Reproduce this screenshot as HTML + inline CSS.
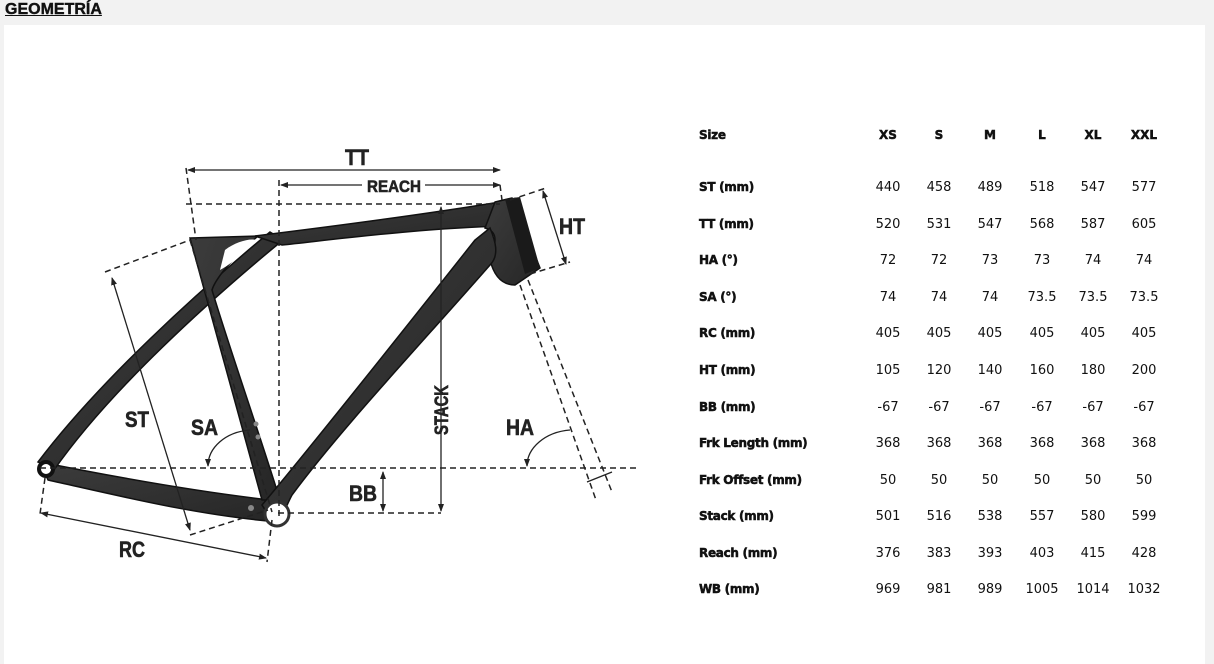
<!DOCTYPE html>
<html><head><meta charset="utf-8"><style>
body{margin:0;width:1214px;height:664px;background:#f2f2f2;overflow:hidden;font-family:"Liberation Sans",sans-serif;position:relative}
.h{position:absolute;left:5px;top:1px;font:bold 16px "Liberation Sans",sans-serif;color:#111;text-decoration:underline;-webkit-text-stroke:0.4px #111}
.card{position:absolute;left:4px;top:25px;width:1201px;height:639px;background:#fff}
svg{position:absolute;left:0;top:0}
.t{position:absolute;font-family:"DejaVu Sans",sans-serif;font-size:13px;color:#111}
.l{font-weight:bold;font-size:12px;letter-spacing:-0.3px;-webkit-text-stroke:0.5px #111}
.v{width:50px;text-align:center;margin-left:-25px}
.hd{font-weight:bold;font-size:12px;-webkit-text-stroke:0.5px #111}
</style></head><body>
<div class="h">GEOMETRÍA</div>
<div class="card"></div>
<svg width="1214" height="664" viewBox="0 0 1214 664">
<defs>
<marker id="a" markerWidth="8" markerHeight="8" refX="7" refY="4" orient="auto-start-reverse" markerUnits="userSpaceOnUse"><path d="M0,1 L8,4 L0,7 z" fill="#222"/></marker>
<linearGradient id="g" x1="0" y1="0" x2="1" y2="1"><stop offset="0" stop-color="#3c3c3c"/><stop offset="1" stop-color="#262626"/></linearGradient>
</defs>
<g fill="url(#g)" stroke="#111" stroke-width="1.5">
<path d="M40,462 C120,478 200,492 270,500 L280,522 C200,516 120,496 48,480 Z"/>
<path d="M38,462 C100,380 200,290 270,232 L283,240 C210,300 110,390 54,470 Z"/>
<path d="M190,238 L258,236 C230,260 215,280 212,290 C230,350 255,420 280,500 L262,500 C240,420 215,330 190,238 Z"/>
<path d="M255,236 C320,228 420,215 500,202 L505,226 C420,228 330,240 282,245 Z"/>
<path d="M495,202 L512,198 L540,268 L515,285 C505,285 495,280 490,260 C495,245 500,232 485,228 Z"/>
<path d="M490,228 C495,240 500,255 490,265 C420,345 340,430 292,495 C285,508 282,520 275,525 L262,505 C300,460 380,360 475,240 Z"/>
</g>
<path d="M505,199 L520,197 L540,268 L525,274 Z" fill="#1a1a1a"/>
<path d="M225,250 C235,242 250,238 256,240 C245,250 235,262 220,270 Z" fill="#fff"/>
<circle cx="46" cy="469" r="7" fill="#fff" stroke="#111" stroke-width="4"/>
<circle cx="277" cy="514" r="12" fill="#fff" stroke="#333" stroke-width="3"/>
<circle cx="251" cy="508" r="3" fill="#888"/>
<circle cx="256" cy="424" r="2.5" fill="#888"/><circle cx="258" cy="437" r="2.5" fill="#888"/>
<g stroke="#222" stroke-width="1.5" fill="none" stroke-dasharray="6,4">
<path d="M186,168 L196,240"/>
<path d="M186,204 L500,204"/>
<path d="M279,180 L279,518"/>
<path d="M190,240 L272,512"/>
<path d="M40,468 L636,468"/>
<path d="M278,513 L441,513"/>
<path d="M105,272 L190,240"/>
<path d="M190,535 L268,510"/>
<path d="M45,478 L40,514"/>
<path d="M272,520 L267,562"/>
<path d="M510,200 L546,188"/>
<path d="M530,274 L570,262"/>
<path d="M500,185 L502,200"/>
<path d="M528,280 L612,492"/>
<path d="M520,285 L596,500"/>
</g>
<g stroke="#222" stroke-width="1.3" fill="none">
<path d="M188,170 L500,170" marker-start="url(#a)" marker-end="url(#a)"/>
<path d="M281,185 L362,185" marker-start="url(#a)"/>
<path d="M425,185 L500,185" marker-end="url(#a)"/>
<path d="M441,207 L441,511" marker-start="url(#a)" marker-end="url(#a)"/>
<path d="M383,472 L383,511" marker-start="url(#a)" marker-end="url(#a)"/>
<path d="M543,191 L566,264" marker-start="url(#a)" marker-end="url(#a)"/>
<path d="M112,278 L190,530" marker-start="url(#a)" marker-end="url(#a)"/>
<path d="M41,513 L266,558" marker-start="url(#a)" marker-end="url(#a)"/>
<path d="M250,430 C225,432 208,448 208,466" marker-end="url(#a)"/>
<path d="M570,430 C545,432 527,448 527,466" marker-end="url(#a)"/>
<path d="M587,482 L612,472"/>
</g>
<g font-family="Liberation Sans,sans-serif" font-weight="bold" fill="#222" stroke="#222" stroke-width="0.6">
<text x="345" y="165" font-size="22" textLength="24" lengthAdjust="spacingAndGlyphs">TT</text>
<text x="367" y="192" font-size="17" textLength="54" lengthAdjust="spacingAndGlyphs">REACH</text>
<text x="559" y="234" font-size="22" textLength="26" lengthAdjust="spacingAndGlyphs">HT</text>
<text x="125" y="427" font-size="22" textLength="24" lengthAdjust="spacingAndGlyphs">ST</text>
<text x="191" y="435" font-size="22" textLength="27" lengthAdjust="spacingAndGlyphs">SA</text>
<text x="506" y="435" font-size="22" textLength="28" lengthAdjust="spacingAndGlyphs">HA</text>
<text x="349" y="501" font-size="22" textLength="28" lengthAdjust="spacingAndGlyphs">BB</text>
<text x="119" y="557" font-size="22" textLength="26" lengthAdjust="spacingAndGlyphs">RC</text>
<text x="0" y="0" font-size="19" textLength="50" lengthAdjust="spacingAndGlyphs" transform="translate(448,435) rotate(-90)">STACK</text>
</g>
</svg>
<div class="t l" style="left:699px;top:128px">Size</div>
<div class="t hd v" style="left:888px;top:128px">XS</div>
<div class="t hd v" style="left:939px;top:128px">S</div>
<div class="t hd v" style="left:990px;top:128px">M</div>
<div class="t hd v" style="left:1042px;top:128px">L</div>
<div class="t hd v" style="left:1093px;top:128px">XL</div>
<div class="t hd v" style="left:1144px;top:128px">XXL</div>
<div class="t l" style="left:699px;top:180px">ST (mm)</div>
<div class="t v" style="left:888px;top:180px">440</div><div class="t v" style="left:939px;top:180px">458</div><div class="t v" style="left:990px;top:180px">489</div><div class="t v" style="left:1042px;top:180px">518</div><div class="t v" style="left:1093px;top:180px">547</div><div class="t v" style="left:1144px;top:180px">577</div>
<div class="t l" style="left:699px;top:217px">TT (mm)</div>
<div class="t v" style="left:888px;top:217px">520</div><div class="t v" style="left:939px;top:217px">531</div><div class="t v" style="left:990px;top:217px">547</div><div class="t v" style="left:1042px;top:217px">568</div><div class="t v" style="left:1093px;top:217px">587</div><div class="t v" style="left:1144px;top:217px">605</div>
<div class="t l" style="left:699px;top:253px">HA (°)</div>
<div class="t v" style="left:888px;top:253px">72</div><div class="t v" style="left:939px;top:253px">72</div><div class="t v" style="left:990px;top:253px">73</div><div class="t v" style="left:1042px;top:253px">73</div><div class="t v" style="left:1093px;top:253px">74</div><div class="t v" style="left:1144px;top:253px">74</div>
<div class="t l" style="left:699px;top:290px">SA (°)</div>
<div class="t v" style="left:888px;top:290px">74</div><div class="t v" style="left:939px;top:290px">74</div><div class="t v" style="left:990px;top:290px">74</div><div class="t v" style="left:1042px;top:290px">73.5</div><div class="t v" style="left:1093px;top:290px">73.5</div><div class="t v" style="left:1144px;top:290px">73.5</div>
<div class="t l" style="left:699px;top:326px">RC (mm)</div>
<div class="t v" style="left:888px;top:326px">405</div><div class="t v" style="left:939px;top:326px">405</div><div class="t v" style="left:990px;top:326px">405</div><div class="t v" style="left:1042px;top:326px">405</div><div class="t v" style="left:1093px;top:326px">405</div><div class="t v" style="left:1144px;top:326px">405</div>
<div class="t l" style="left:699px;top:363px">HT (mm)</div>
<div class="t v" style="left:888px;top:363px">105</div><div class="t v" style="left:939px;top:363px">120</div><div class="t v" style="left:990px;top:363px">140</div><div class="t v" style="left:1042px;top:363px">160</div><div class="t v" style="left:1093px;top:363px">180</div><div class="t v" style="left:1144px;top:363px">200</div>
<div class="t l" style="left:699px;top:400px">BB (mm)</div>
<div class="t v" style="left:888px;top:400px">-67</div><div class="t v" style="left:939px;top:400px">-67</div><div class="t v" style="left:990px;top:400px">-67</div><div class="t v" style="left:1042px;top:400px">-67</div><div class="t v" style="left:1093px;top:400px">-67</div><div class="t v" style="left:1144px;top:400px">-67</div>
<div class="t l" style="left:699px;top:436px">Frk Length (mm)</div>
<div class="t v" style="left:888px;top:436px">368</div><div class="t v" style="left:939px;top:436px">368</div><div class="t v" style="left:990px;top:436px">368</div><div class="t v" style="left:1042px;top:436px">368</div><div class="t v" style="left:1093px;top:436px">368</div><div class="t v" style="left:1144px;top:436px">368</div>
<div class="t l" style="left:699px;top:473px">Frk Offset (mm)</div>
<div class="t v" style="left:888px;top:473px">50</div><div class="t v" style="left:939px;top:473px">50</div><div class="t v" style="left:990px;top:473px">50</div><div class="t v" style="left:1042px;top:473px">50</div><div class="t v" style="left:1093px;top:473px">50</div><div class="t v" style="left:1144px;top:473px">50</div>
<div class="t l" style="left:699px;top:509px">Stack (mm)</div>
<div class="t v" style="left:888px;top:509px">501</div><div class="t v" style="left:939px;top:509px">516</div><div class="t v" style="left:990px;top:509px">538</div><div class="t v" style="left:1042px;top:509px">557</div><div class="t v" style="left:1093px;top:509px">580</div><div class="t v" style="left:1144px;top:509px">599</div>
<div class="t l" style="left:699px;top:546px">Reach (mm)</div>
<div class="t v" style="left:888px;top:546px">376</div><div class="t v" style="left:939px;top:546px">383</div><div class="t v" style="left:990px;top:546px">393</div><div class="t v" style="left:1042px;top:546px">403</div><div class="t v" style="left:1093px;top:546px">415</div><div class="t v" style="left:1144px;top:546px">428</div>
<div class="t l" style="left:699px;top:582px">WB (mm)</div>
<div class="t v" style="left:888px;top:582px">969</div><div class="t v" style="left:939px;top:582px">981</div><div class="t v" style="left:990px;top:582px">989</div><div class="t v" style="left:1042px;top:582px">1005</div><div class="t v" style="left:1093px;top:582px">1014</div><div class="t v" style="left:1144px;top:582px">1032</div>
</body></html>
